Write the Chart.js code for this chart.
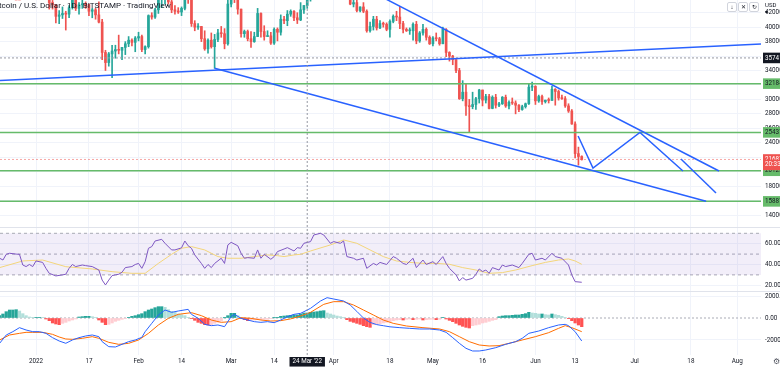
<!DOCTYPE html>
<html lang="en">
<head>
  <meta charset="UTF-8" />
  <title>BTC/USD 1D – Bitstamp</title>
  <script src="https://cdn.jsdelivr.net/npm/chart.js"></script>
  <style>
    body { margin: 0; width: 780px; height: 370px; background: #fff; position: relative; overflow: hidden;
           font-family: Roboto, "Liberation Sans", sans-serif; }
    canvas { position: absolute; left: 0; }
    #pricePane { top: 0; }
    #rsiPane { top: 228px; }
    #macdPane { top: 292px; }
    .sep { position: absolute; left: 0; width: 780px; height: 1px; background: #e0e3eb; }
    .title { position: absolute; top: 1px; left: -8px; font-size: 8px; color: #131722; white-space: nowrap; z-index: 2; }
    .btn { position: absolute; top: 2px; width: 8px; height: 8px; border: 1px solid #d1d4dc; border-radius: 2px;
           background: #fff; font-size: 6px; line-height: 8px; text-align: center; color: #131722; z-index: 2; }
    .cur { position: absolute; top: 1px; left: 765px; font-size: 6px; color: #131722; z-index: 2; }
    .gear { position: absolute; top: 357px; left: 773px; font-size: 8px; color: #50535e; z-index: 2; }
  </style>
</head>
<body>

  <!-- 🔷 panes -->
  <canvas id="pricePane" width="780" height="227"></canvas>
  <div class="sep" style="top:227px"></div>
  <canvas id="rsiPane" width="780" height="63"></canvas>
  <div class="sep" style="top:291px"></div>
  <canvas id="macdPane" width="780" height="78"></canvas>

  <div class="title">Bitcoin / U.S. Dollar · 1D · BITSTAMP · TradingView</div>
  <div class="btn" style="left:727px">↓</div>
  <div class="btn" style="left:738px">✕</div>
  <div class="btn" style="left:749px">↻</div>
  <div class="cur">USD ▾</div>
  <div class="gear">⚙</div>

  <script>
    // days counted from 1 Jan 2022, first candle is 21 Dec 2021
    const firstDay = -11;

    // daily candles, thousands of USD
    const opens = [
      46.9,48.9,48.6,50.8,50.4,50.8,50.7,50.6,47.5,46.4,
      47.1,46.2,47.7,47.3,46.4,45.8,43.4,43.1,41.5,41.7,
      41.9,41.8,42.7,43.9,42.6,43.1,43.2,43.1,42.2,42.4,
      41.7,40.7,36.5,35.1,36.3,36.7,36.9,36.8,37.2,37.7,
      38.2,37.9,38.5,38.7,36.9,37.3,41.6,41.4,42.4,43.8,
      44.0,44.4,43.5,42.4,42.2,42.1,42.6,44.6,43.9,40.5,
      40.0,40.1,38.4,37.0,38.2,37.3,38.3,39.2,39.1,37.7,
      43.2,44.4,44.0,42.5,39.1,39.4,38.4,38.0,38.7,41.9,
      39.4,38.7,38.8,37.8,39.7,39.3,41.1,40.9,41.8,42.2,
      41.3,41.0,42.4,43.0,44.0,44.3,44.5,46.8,47.1,47.4,
      47.1,45.5,46.3,45.8,46.4,46.6,45.5,43.2,43.4,42.3,
      42.8,42.2,39.5,40.1,41.1,39.9,40.5,40.4,39.7,40.8,
      41.5,41.4,40.5,39.7,39.5,39.5,40.4,38.1,39.2,39.7,
      38.6,37.7,38.5,38.4,37.7,39.7,36.5,36.0,35.5,34.0,
      30.1,31.0,29.1,29.0,29.3,30.1,31.3,29.9,30.4,28.75,
      30.3,29.2,29.4,30.3,29.1,29.6,29.5,29.2,28.6,29.0,
      29.4,31.7,31.8,29.8,30.4,29.7,29.9,29.85,31.4,31.1,
      30.2,30.1,29.1,28.4,26.6,22.5,22.1
    ];
    const highs = [
      49.3,49.6,51.4,51.8,51.2,51.3,52.1,50.7,48.1,47.9,
      48.5,47.9,47.9,47.5,47.5,47.1,43.7,43.1,42.3,42.8,
      42.2,43.0,44.3,44.4,43.4,43.8,43.5,43.2,42.6,42.6,
      43.5,41.1,36.8,36.5,37.5,37.5,38.9,37.2,38.0,38.7,
      38.4,38.7,39.3,38.9,37.4,41.7,42.0,42.6,44.4,45.3,
      44.8,45.8,43.9,43.0,42.7,42.8,44.7,44.6,44.2,40.9,
      40.5,40.1,39.5,38.4,39.2,39.0,39.7,40.1,39.8,43.7,
      44.9,45.4,44.1,42.5,39.6,39.6,39.4,39.3,42.6,42.0,
      40.2,39.5,39.3,39.9,39.9,41.7,41.5,42.3,42.4,42.3,
      42.0,43.4,43.0,44.2,45.1,44.8,46.9,48.2,48.1,47.7,
      47.6,46.7,47.2,47.4,46.9,47.2,45.5,43.9,43.9,42.8,
      43.4,42.4,40.7,41.5,41.5,40.9,40.7,40.6,41.0,41.7,
      42.2,42.9,40.8,39.9,39.9,40.6,40.8,39.4,40.4,39.9,
      38.8,38.7,39.2,38.6,40.0,39.8,36.6,36.1,35.5,34.3,
      32.6,32.1,30.0,31.0,30.3,31.4,31.3,30.7,30.7,30.5,
      30.7,29.6,30.4,30.6,29.8,30.2,29.8,29.3,29.2,29.5,
      32.2,32.4,31.9,30.6,30.6,29.9,30.2,31.8,31.5,31.3,
      30.6,30.4,29.4,28.6,26.9,23.4,22.2
    ];
    const lows = [
      46.6,48.4,47.9,50.4,50.2,49.4,50.4,47.3,46.1,46.0,
      45.7,46.2,46.7,45.7,45.5,42.5,42.5,40.6,40.5,41.2,
      39.6,41.3,42.5,42.3,41.8,42.6,42.6,41.6,41.3,41.1,
      40.6,35.5,34.0,34.6,33.0,35.7,36.3,35.5,36.2,37.3,
      37.4,36.6,38.1,36.6,36.3,37.1,41.1,41.2,41.9,42.7,
      43.2,43.2,42.0,41.8,41.9,41.6,42.4,43.3,40.1,39.5,
      39.7,38.0,36.8,36.4,37.1,34.3,38.0,38.6,37.0,37.5,
      42.8,43.4,41.8,38.6,38.6,38.1,37.2,37.9,38.7,38.6,
      38.2,38.7,37.6,37.6,38.1,38.9,40.5,40.2,41.5,40.9,
      40.5,40.9,41.9,42.6,43.6,44.1,44.4,46.7,46.9,46.6,
      45.2,44.2,45.6,45.6,45.1,45.4,43.1,42.8,42.1,42.1,
      42.0,39.3,39.3,39.6,39.6,39.8,40.0,39.5,38.6,40.6,
      40.9,39.8,39.2,39.4,39.0,38.2,37.7,37.9,38.9,38.2,
      37.6,37.4,38.1,37.5,37.7,35.9,35.3,34.8,33.7,30.0,
      29.8,27.8,25.5,28.7,28.6,29.5,29.1,29.5,28.7,28.7,
      28.8,29.0,29.3,28.9,28.7,29.3,28.0,28.3,28.5,28.8,
      29.3,31.2,29.3,29.6,29.3,29.5,29.5,29.9,29.2,29.9,
      30.0,28.9,28.2,26.55,21.9,20.9,21.6
    ];
    const closes = [
      48.9,48.6,50.8,50.4,50.8,50.7,50.6,47.5,46.4,47.1,
      46.2,47.7,47.3,46.4,45.8,43.4,43.1,41.5,41.7,41.9,
      41.8,42.7,43.9,42.6,43.1,43.2,43.1,42.2,42.4,41.7,
      40.7,36.5,35.1,36.3,36.7,36.9,36.8,37.2,37.7,38.2,
      37.9,38.5,38.7,36.9,37.3,41.6,41.4,42.4,43.8,44.0,
      44.4,43.5,42.4,42.2,42.1,42.6,44.6,43.9,40.5,40.0,
      40.1,38.4,37.0,38.2,37.3,38.3,39.2,39.1,37.7,43.2,
      44.4,44.0,42.5,39.1,39.4,38.4,38.0,38.7,41.9,39.4,
      38.7,38.8,37.8,39.7,39.3,41.1,40.9,41.8,42.2,41.3,
      41.0,42.4,43.0,44.0,44.3,44.5,46.8,47.1,47.4,47.1,
      45.5,46.3,45.8,46.4,46.6,45.5,43.2,43.4,42.3,42.8,
      42.2,39.5,40.1,41.1,39.9,40.5,40.4,39.7,40.8,41.5,
      41.4,40.5,39.7,39.5,39.5,40.4,38.1,39.2,39.7,38.6,
      37.7,38.5,38.4,37.7,39.7,36.5,36.0,35.5,34.0,30.1,
      31.0,29.1,29.0,29.3,30.1,31.3,29.9,30.4,28.75,30.3,
      29.2,29.4,30.3,29.1,29.6,29.5,29.2,28.6,29.0,29.4,
      31.7,31.8,29.8,30.4,29.7,29.9,29.85,31.4,31.1,30.2,
      30.1,29.1,28.4,26.6,22.5,22.1,21.687
    ];

    // price scale
    const priceTicks = [14,16,18,20,22,24,26,28,30,32,34,36,38,40,42];
    const levels = [32.184, 25.437, 20.123, 15.887];
    const lastPrice = 21.687;
    const countdown = "20:33:27";
    const crossPrice = 35.741;
    const crossDay = 82; // 24 Mar

    // hand-drawn lines, [day, price]
    const supportRise = [[-10.9, 32.616], [219.2, 37.668]];
    const channelLow = [[54, 34.3], [202.6, 15.9]];
    const channelHigh = [[86, 48.57], [206.5, 20.09]];
    const pathA = [[163.9, 24.93], [168.4, 20.5], [182.6, 25.437], [195.6, 20.1]];
    const pathB = [[195.0, 21.75], [205.6, 17.05]];

    // time axis
    const tickDays = [0,16,31,44,59,72,82,90,107,120,135,151,163,181,198,212];
    const tickLabels = ["2022","17","Feb","14","Mar","14","24 Mar '22","Apr","18","May","16","Jun","13","Jul","18","Aug"];

    // RSI(14) and its MA, [day, value]
    const rsi = [[-11,46],[-10,44.3],[-9,49.8],[-8,50.8],[-6,50],[-5,49.8],[-4,39.5],[-3,38],[-2,40],[-1,38],
      [0,43.4],[2,42],[3,36.3],[4,31.5],[6,29],[8,30],[9,30.6],[10,36.3],[11,40],[12,38],[14,39.5],[15,38.9],
      [17,38],[19,34.7],[20,25],[21,20.3],[22,25],[23,29.3],[24,30],[25,30.6],[26,32.5],[27,37],[29,38],[30,40],
      [31,41],[32,36.3],[33,42.7],[34,55.6],[35,57.2],[36,62.6],[38,64.2],[39,60.4],[41,54],[42,54],[44,56],
      [45,62.6],[46,58],[47,55.6],[48,49.2],[50,41],[51,36.3],[52,40],[53,37],[54,41],[56,46],[57,41],[58,58.8],
      [59,61.3],[61,58],[62,50.8],[63,46],[64,46.6],[66,46],[67,54],[68,46],[69,49.8],[71,45],[72,47.6],[73,52.4],
      [75,54.9],[76,56.2],[78,53],[79,56.2],[80,55.6],[81,60.4],[83,62],[84,68.4],[86,70],[87,68.4],[89,60.4],
      [90,62],[92,60.4],[93,62.6],[94,47.6],[96,46],[97,44.3],[99,46],[100,36.3],[102,41],[103,39.5],[104,42],
      [106,40],[108,47.6],[109,46],[111,41],[112,40],[114,46],[115,37],[117,44.3],[118,40],[120,42.7],[121,40],
      [123,47.6],[124,41],[125,36.3],[127,30],[128,24.2],[129,27.4],[130,25],[132,26.7],[133,30.6],[134,35.7],
      [135,33.2],[136,34.7],[137,31.5],[138,37],[140,34.7],[141,39.5],[142,38],[144,39.5],[146,37],[147,41],
      [149,49.8],[150,50.8],[151,44.3],[153,46],[154,44.3],[156,50.8],[157,47.6],[159,46],[161,39.5],[162,30],
      [163,23.5],[165,22.9]];
    const rsiMa = [[-11,37],[-4,43.4],[2,44.3],[9,37.9],[17,35.7],[23,33.1],[29,31.5],[33,31.5],[37,41.1],
      [41,49.8],[44,55.6],[47,57.2],[51,54],[55,47.6],[58,46],[62,46],[66,47.6],[70,49.2],[73,48.5],[75,47.6],
      [78,49.2],[80,49.8],[83,53],[89,58.8],[93,63.6],[97,60.4],[101,54],[105,47.6],[109,43.4],[113,42],
      [117,41.1],[121,41.1],[125,40.2],[129,37],[133,34.7],[137,31.5],[141,32.2],[145,34.7],[150,38.9],
      [154,42],[158,44.3],[161,45.3],[163,43.4],[165,40.2]];
    const rsiTicks = [20, 40, 60];
    const rsiBand = [70, 50, 30];

    // MACD(12,26,9)
    const macd = [[-11,-2300],[-9,-1545],[-7,-1242],[-5,-879],[-3,-1090],[-1,-1242],[1,-1242],[3,-1394],
      [5,-1788],[7,-2090],[9,-2300],[11,-2000],[13,-1788],[15,-1636],[17,-1545],[19,-1697],[20,-2150],
      [22,-2606],[24,-2636],[26,-2394],[28,-2150],[30,-2000],[32,-1757],[33,-1242],[35,-485],[37,273],
      [39,727],[41,515],[43,636],[46,788],[47,333],[49,-30],[51,-576],[53,-697],[55,-636],[57,-788],[59,121],
      [60,333],[62,-30],[64,-182],[66,-333],[68,-394],[70,-333],[72,-424],[74,-182],[76,121],[78,333],[80,424],
      [83,879],[86,1545],[88,1848],[90,1727],[93,1545],[95,1182],[97,600],[99,0],[101,-400],[103,-600],
      [105,-700],[107,-800],[110,-879],[113,-939],[116,-1000],[119,-1000],[122,-1091],[124,-1303],[126,-1788],
      [128,-2303],[130,-2757],[132,-3000],[134,-3000],[136,-2909],[139,-2697],[142,-2394],[145,-2151],
      [147,-1848],[149,-1394],[152,-1182],[155,-879],[158,-636],[160,-576],[161,-697],[163,-1242],[165,-2091]];
    const signal = [[-11,-2000],[-8,-1545],[-5,-1394],[-3,-1303],[-1,-1303],[2,-1303],[5,-1485],[7,-1727],
      [9,-1909],[11,-1939],[14,-1848],[17,-1697],[19,-1848],[22,-2212],[25,-2394],[28,-2303],[31,-2000],
      [34,-1394],[37,-636],[40,-30],[43,333],[47,485],[50,212],[53,-182],[56,-394],[59,-333],[62,30],[65,-30],
      [68,-182],[71,-273],[74,-242],[77,-80],[80,180],[83,515],[87,1242],[90,1485],[93,1485],[96,1182],
      [99,727],[102,273],[105,-182],[108,-485],[112,-727],[117,-879],[122,-1000],[125,-1242],[128,-1697],
      [131,-2151],[134,-2454],[137,-2545],[140,-2515],[143,-2303],[147,-2000],[151,-1697],[155,-1333],
      [158,-939],[160,-697],[162,-879],[165,-1242]];
    // histogram, one bar per day from firstDay
    const hist = [
      212,364,576,727,727,758,636,394,212,91,60,60,60,30,-91,-242,-454,-545,-606,-485,
      -394,-273,-182,-91,91,121,152,152,121,30,-182,-394,-606,-576,-454,-303,-212,-121,-60,30,
      152,212,303,394,576,727,818,939,1030,1030,970,758,606,515,364,303,212,60,-60,-212,
      -394,-485,-606,-636,-606,-485,-394,-273,20,212,424,424,212,-20,-152,-242,-212,-182,-152,-152,
      -121,-121,-60,20,60,152,182,212,242,273,273,364,454,454,515,545,576,636,667,454,
      364,273,182,121,20,-152,-303,-394,-485,-576,-697,-788,-848,-606,-576,-515,-454,-394,-333,-242,
      -182,-152,-182,-121,-91,-152,-121,-91,-182,-152,-121,-121,-152,-121,60,-91,-212,-333,-485,-636,
      -758,-848,-909,-697,-636,-576,-454,-394,-303,-212,-152,121,182,212,212,242,273,273,333,394,
      515,454,424,364,364,303,273,364,303,242,152,60,-30,-242,-454,-636,-788
    ];
    const macdTicks = [-2000, 0, 2000];

    // ---- styling ----
    const FONT = 'Roboto, "Liberation Sans", sans-serif';
    const TEXT = "#131722";
    const GRID = "#f0f3fa";
    const UP = "#26a69a", DOWN = "#ef5350";
    const BLUE = "#2962ff", GREEN = "#66bb6a";
    const AXIS_W = 19;
    const X_MIN = -10.89, X_MAX = 219.2;
    const NONE = "rgba(0,0,0,0)";

    const pts = arr => arr.map(([x, y]) => ({ x, y }));
    const line = (data, color, width, dash, order) => ({
      type: "line", data, borderColor: color, borderWidth: width, borderDash: dash || [],
      pointRadius: 0, fill: false, tension: 0, order: order || 0
    });
    const crossLine = (lo, hi) => line([{ x: crossDay, y: lo }, { x: crossDay, y: hi }], "#9598a1", 1, [2, 2], -1);
    // keep label overhang from shrinking the plot area
    const noPad = s => { s.paddingTop = 0; s.paddingBottom = 0; s.paddingLeft = 0; s.paddingRight = 0; };

    function timeAxis(showLabels) {
      const crossIdx = tickDays.indexOf(crossDay);
      return {
        type: "linear", min: X_MIN, max: X_MAX, offset: false,
        afterBuildTicks: s => { s.ticks = tickDays.map(v => ({ value: v })); },
        afterFit: s => { s.height = showLabels ? 15 : 0; noPad(s); },
        grid: { offset: false, drawTicks: false, color: c => c.index === crossIdx ? NONE : GRID },
        border: { display: false },
        ticks: {
          display: showLabels, autoSkip: false, maxRotation: 0, padding: 3,
          font: { size: 6.3, family: FONT },
          callback: (v, i) => tickLabels[i],
          color: c => c.index === crossIdx ? "#fff" : TEXT,
          showLabelBackdrop: c => c.index === crossIdx,
          backdropColor: TEXT,
          backdropPadding: { x: 3, y: 1 }
        }
      };
    }

    function valueAxis(min, max, marks) {
      return {
        position: "right", min, max,
        afterFit: s => { s.width = AXIS_W; noPad(s); },
        afterBuildTicks: s => { s.ticks = marks.map(m => ({ value: m.v })); },
        grid: { drawTicks: false, color: c => marks[c.index] && marks[c.index].grid ? GRID : NONE },
        border: { display: false },
        ticks: {
          autoSkip: false, padding: 4, font: { size: 6.3, family: FONT },
          callback: (v, i) => marks[i].text,
          color: c => marks[c.index].fg,
          showLabelBackdrop: c => !!marks[c.index].bg,
          backdropColor: c => marks[c.index].bg || NONE,
          backdropPadding: { x: 2, y: 1.5 }
        }
      };
    }

    const baseOpts = {
      responsive: false, animation: false, events: [],
      layout: { padding: 0 },
      plugins: { legend: { display: false }, tooltip: { enabled: false } }
    };

    // ---- price pane ----
    const usd = v => (v * 1000).toFixed(2);
    const tagged = [...levels, lastPrice, crossPrice];
    const priceMarks = priceTicks.map(v => ({
      v, text: tagged.some(t => Math.abs(t - v) < 0.5) ? "" : usd(v), fg: TEXT, grid: true
    }));
    levels.forEach(v => priceMarks.push({ v, text: usd(v), fg: TEXT, bg: GREEN }));
    priceMarks.push({ v: lastPrice, text: usd(lastPrice), fg: "#fff", bg: DOWN });
    priceMarks.push({ v: lastPrice - 0.75, text: countdown, fg: "#fff", bg: DOWN });
    priceMarks.push({ v: crossPrice, text: usd(crossPrice), fg: "#fff", bg: TEXT });

    const P_MIN = 12.34, P_MAX = 43.76;
    const days = opens.map((_, i) => firstDay + i);
    const candleColor = opens.map((o, i) => closes[i] >= o ? UP : DOWN);
    const flat = y => [{ x: X_MIN, y }, { x: X_MAX, y }];

    new Chart(document.getElementById("pricePane"), {
      type: "bar",
      data: {
        datasets: [
          { data: days.map((d, i) => ({ x: d, y: [lows[i], highs[i]] })), backgroundColor: candleColor,
            barThickness: 1, grouped: false, order: 6 },
          { data: days.map((d, i) => ({ x: d, y: [opens[i], closes[i]] })), backgroundColor: candleColor,
            barThickness: 2, minBarLength: 1, grouped: false, order: 5 },
          ...levels.map(v => line(flat(v), GREEN, 1.5, [], 3)),
          line(flat(lastPrice), "rgba(239,83,80,0.5)", 1, [2, 2], 4),
          line(flat(crossPrice), "#9598a1", 1, [2, 2], 4),
          crossLine(P_MIN, P_MAX),
          line(pts(supportRise), BLUE, 1.5, [], 1),
          line(pts(channelLow), BLUE, 1.5, [], 1),
          line(pts(channelHigh), BLUE, 1.5, [], 1),
          line(pts(pathA), BLUE, 1.5, [], 1),
          line(pts(pathB), BLUE, 1.5, [], 1)
        ]
      },
      options: { ...baseOpts, scales: { x: timeAxis(false), y: valueAxis(P_MIN, P_MAX, priceMarks) } }
    });

    // ---- RSI pane ----
    const R_MIN = 14.5, R_MAX = 75.1;
    const rsiMarks = rsiTicks.map(v => ({ v, text: v.toFixed(2), fg: TEXT, grid: true }));
    new Chart(document.getElementById("rsiPane"), {
      type: "line",
      data: {
        datasets: [
          { ...line(flat(rsiBand[0]), "#a9abb5", 1, [3, 3], 5), fill: { value: rsiBand[2] },
            backgroundColor: "rgba(126,87,194,0.10)" },
          line(flat(rsiBand[1]), "#a9abb5", 1, [3, 3], 5),
          line(flat(rsiBand[2]), "#a9abb5", 1, [3, 3], 5),
          crossLine(R_MIN, R_MAX),
          line(pts(rsiMa), "#f3d57a", 1, [], 2),
          line(pts(rsi), "#7e57c2", 1, [], 1)
        ]
      },
      options: { ...baseOpts, scales: { x: timeAxis(false), y: valueAxis(R_MIN, R_MAX, rsiMarks) } }
    });

    // ---- MACD pane ----
    const M_MIN = -3364, M_MAX = 2364;
    const macdMarks = macdTicks.map(v => ({ v, text: v.toFixed(2), fg: TEXT, grid: v !== 0 }));
    const histColor = hist.map((h, i) => {
      const prev = i ? hist[i - 1] : h;
      if (h >= 0) return h >= prev ? "#26a69a" : "#b2dfdb";
      return h < prev ? "#ff5252" : "#ffcdd2";
    });
    new Chart(document.getElementById("macdPane"), {
      type: "bar",
      data: {
        datasets: [
          { data: hist.map((h, i) => ({ x: firstDay + i, y: h })), backgroundColor: histColor,
            barThickness: 2.6, grouped: false, order: 5 },
          line(flat(0), "#a9abb5", 1, [2, 2], 6),
          crossLine(M_MIN, M_MAX),
          line(pts(signal), "#ff6d00", 1, [], 2),
          line(pts(macd), BLUE, 1, [], 1)
        ]
      },
      options: { ...baseOpts, scales: { x: timeAxis(true), y: valueAxis(M_MIN, M_MAX, macdMarks) } }
    });
  </script>
</body>
</html>
